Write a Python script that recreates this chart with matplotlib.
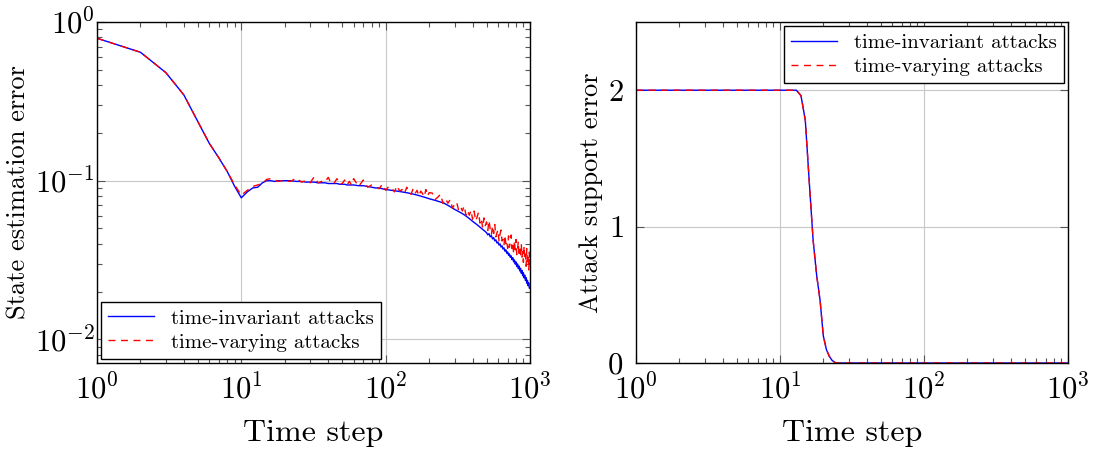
import numpy as np
import matplotlib
matplotlib.use('Agg')
import matplotlib.pyplot as plt
from matplotlib.ticker import LogLocator, NullFormatter

plt.rcParams['font.family'] = ['cmr10', 'DejaVu Serif']
plt.rcParams['mathtext.fontset'] = 'cm'
plt.rcParams['axes.formatter.use_mathtext'] = True
plt.rcParams['axes.unicode_minus'] = False

# time steps used for the left panel
steps = np.concatenate([np.arange(1, 21), np.arange(22, 61, 2),
                        np.arange(65, 201, 5), np.arange(210, 1001, 10)])

# state estimation error, time-invariant attacks
est_invariant = [
    0.79, 0.645, 0.48, 0.347, 0.236, 0.172, 0.139, 0.114, 0.092, 0.078,
    0.085, 0.090, 0.091, 0.097, 0.100, 0.100, 0.099, 0.100, 0.100, 0.100,
    # 22..60
    0.100, 0.099, 0.099, 0.098, 0.098, 0.098, 0.097, 0.097, 0.097, 0.096,
    0.096, 0.096, 0.096, 0.095, 0.095, 0.095, 0.094, 0.094, 0.094, 0.094,
    # 65..200
    0.093, 0.093, 0.092, 0.091, 0.090, 0.090, 0.089, 0.088, 0.0875, 0.087,
    0.0865, 0.086, 0.0855, 0.085, 0.0845, 0.084, 0.0835, 0.083, 0.0824, 0.0818,
    0.0812, 0.0806, 0.080, 0.0794, 0.0788, 0.0782, 0.0776, 0.077,
    # 210..1000
    0.0761, 0.0752, 0.0743, 0.0734, 0.0725, 0.0713, 0.0700, 0.0686, 0.0673, 0.0660,
    0.0650, 0.0640, 0.0630, 0.0620, 0.0610, 0.0599, 0.0588, 0.0577, 0.0566, 0.0555,
    0.0546, 0.0537, 0.0528, 0.0519, 0.0510, 0.0502, 0.0494, 0.0486, 0.0478, 0.0470,
    0.0456, 0.0464, 0.0443, 0.0451, 0.0430, 0.0438, 0.0418, 0.0424, 0.0405, 0.0411,
    0.0393, 0.0400, 0.0382, 0.0389, 0.0371, 0.0378, 0.0360, 0.0367, 0.0349, 0.0356,
    0.0339, 0.0346, 0.0329, 0.0336, 0.0318, 0.0327, 0.0308, 0.0317, 0.0298, 0.0308,
    0.0288, 0.0299, 0.0279, 0.0290, 0.0270, 0.0281, 0.0261, 0.0272, 0.0252, 0.0263,
    0.0244, 0.0254, 0.0235, 0.0245, 0.0226, 0.0236, 0.0218, 0.0227, 0.0210, 0.0212,
]

# state estimation error, time-varying attacks
est_varying = [
    0.79, 0.645, 0.48, 0.347, 0.236, 0.172, 0.139, 0.114, 0.094, 0.081,
    0.087, 0.092, 0.094, 0.096, 0.102, 0.103, 0.101, 0.099, 0.100, 0.100,
    # 22..60
    0.099, 0.104, 0.098, 0.100, 0.097, 0.106, 0.097, 0.099, 0.098, 0.105,
    0.096, 0.097, 0.103, 0.095, 0.096, 0.101, 0.094, 0.099, 0.094, 0.103,
    # 65..200
    0.092, 0.101, 0.091, 0.094, 0.092, 0.089, 0.095, 0.087, 0.092, 0.090,
    0.085, 0.093, 0.086, 0.088, 0.083, 0.091, 0.085, 0.082, 0.089, 0.083,
    0.087, 0.080, 0.086, 0.083, 0.079, 0.088, 0.080, 0.084,
    # 210..1000
    0.0837, 0.0760, 0.0788, 0.0822, 0.0718, 0.0770, 0.0721, 0.0761, 0.0673, 0.0706,
    0.0735, 0.0653, 0.0687, 0.0645, 0.0695, 0.0605, 0.0647, 0.0606, 0.0651, 0.0572,
    0.0644, 0.0558, 0.0591, 0.0633, 0.0541, 0.0577, 0.0504, 0.0583, 0.0521, 0.0550,
    0.0486, 0.0562, 0.0495, 0.0457, 0.0520, 0.0465, 0.0530, 0.0443, 0.0469, 0.0490,
    0.0415, 0.0461, 0.0489, 0.0417, 0.0426, 0.0391, 0.0454, 0.0401, 0.0419, 0.0375,
    0.0449, 0.0381, 0.0409, 0.0455, 0.0374, 0.0406, 0.0347, 0.0419, 0.0366, 0.0426,
    0.0342, 0.0372, 0.0415, 0.0333, 0.0368, 0.0333, 0.0402, 0.0330, 0.0357, 0.0306,
    0.0389, 0.0320, 0.0344, 0.0289, 0.0373, 0.0308, 0.0332, 0.0274, 0.0355, 0.0298,
]

# right panel: attack support error
support_steps = [1, 13, 14, 15, 16, 17, 18, 19, 20, 21, 22, 23, 24, 25, 1000]
support_invariant = [2, 2, 1.96, 1.78, 1.32, 0.90, 0.64, 0.46, 0.20, 0.10, 0.05, 0.02, 0.005, 0, 0]
support_varying = [2, 2, 1.96, 1.78, 1.32, 0.90, 0.64, 0.46, 0.20, 0.10, 0.05, 0.02, 0.005, 0, 0]

labels = ['time-invariant attacks', 'time-varying attacks']

fig = plt.figure(figsize=(10.98, 4.5), dpi=100)
ax1 = fig.add_axes([0.0883, 0.1933, 0.3944, 0.7578])
ax2 = fig.add_axes([0.5792, 0.1933, 0.3934, 0.7578])

dash = (0, (5, 4))


def style(ax, ypad):
    ax.set_xscale('log')
    ax.set_xlim(1, 1000)
    ax.xaxis.set_major_locator(LogLocator(base=10, numticks=10))
    ax.xaxis.set_minor_locator(LogLocator(base=10, subs=np.arange(2, 10), numticks=10))
    ax.xaxis.set_minor_formatter(NullFormatter())
    ax.grid(True, which='major', color='#c8c8c8', lw=0.8)
    ax.tick_params(which='both', direction='in', top=True, right=True,
                   color='#555555', width=0.8)
    ax.tick_params(which='major', length=6, labelsize=22)
    ax.tick_params(axis='x', which='major', pad=8)
    ax.tick_params(axis='y', which='major', pad=ypad)
    ax.tick_params(which='minor', length=3.5)
    for s in ax.spines.values():
        s.set_linewidth(1.0)
    ax.set_xlabel('Time step', fontsize=23, labelpad=10)


def add_legend(ax, loc):
    ax.legend(loc=loc, fontsize=15, frameon=True, fancybox=False,
              edgecolor='black', framealpha=1, handlelength=2.2,
              borderaxespad=0.2, borderpad=0.35, labelspacing=0.25)


ax1.plot(steps, est_invariant, color='blue', lw=1.0, label=labels[0])
ax1.plot(steps, est_varying, color='red', lw=1.0, ls=dash, label=labels[1])
style(ax1, 1.5)
ax1.set_yscale('log')
ax1.set_ylim(0.0071, 1)
ax1.yaxis.set_minor_formatter(NullFormatter())
ax1.set_ylabel('State estimation error', fontsize=19, labelpad=3)
add_legend(ax1, 'lower left')

ax2.plot(support_steps, support_invariant, color='blue', lw=1.0, label=labels[0])
ax2.plot(support_steps, support_varying, color='red', lw=1.0, ls=dash, label=labels[1])
style(ax2, 9)
ax2.set_ylim(0, 2.5)
ax2.set_yticks([0, 1, 2])
ax2.set_ylabel('Attack support error', fontsize=19, labelpad=3)
add_legend(ax2, 'upper right')

fig.savefig('out.png', dpi=100)
